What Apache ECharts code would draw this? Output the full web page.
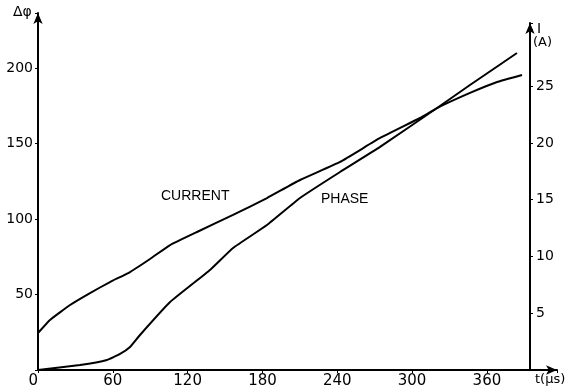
<!DOCTYPE html>
<html><head><meta charset="utf-8">
<script src="https://cdn.jsdelivr.net/npm/echarts@6/dist/echarts.min.js"></script>
<style>html,body{margin:0;padding:0;background:#fff}#c{width:567px;height:392px}</style>
</head><body><div id="c"></div>
<script>
// time (µs)
const currentT = [0, 9.6, 25.7, 41.7, 57.7, 73.8, 89.8, 105.9, 127.5, 156.4, 183.6, 210.1, 242.2, 274.3, 306.3, 320, 346.4, 368.1, 388.1];
// current I (A)
const currentI = [3.26, 4.41, 5.73, 6.78, 7.75, 8.63, 9.78, 11.01, 12.16, 13.66, 15.15, 16.74, 18.33, 20.44, 22.2, 23.08, 24.41, 25.37, 25.99];
const phaseT = [0, 33.7, 55.3, 65.8, 73.8, 81.8, 105.9, 137.9, 156.4, 183.6, 210.1, 242.2, 274.3, 320, 346.4, 384.1];
// phase Δφ (deg)
const phaseV = [0, 3.3, 6.6, 10.6, 15.2, 23.2, 45.0, 66.2, 80.8, 96.0, 113.9, 131.1, 147.7, 173.5, 188.7, 209.9];
const xTicks = [0, 60, 120, 180, 240, 300, 360];
const leftTicks = [50, 100, 150, 200];
const rightTicks = [5, 10, 15, 20, 25];

const F = 'DejaVu Sans';
const chart = echarts.init(document.getElementById('c'), null, {renderer: 'canvas'});
const axisLine = {lineStyle: {color: '#000', width: 2}, symbol: ['none', 'arrow'], symbolSize: [7, 11]};
chart.setOption({
  animation: false,
  grid: [
    {left: 38, right: 10, top: 13, bottom: 22},
    {left: 38, right: 37, top: 23, bottom: 22}
  ],
  xAxis: [
    {type: 'value', gridIndex: 0, min: 0, max: 416.2, interval: 60,
     axisLine: axisLine, splitLine: {show: false},
     axisTick: {length: 3, lineStyle: {color: '#000'}},
     axisLabel: {color: '#000', fontFamily: F, fontSize: 15, margin: 4, alignMinLabel: 'right',
       formatter: v => xTicks.includes(v) ? String(v) : ''}},
    {type: 'value', gridIndex: 1, min: 0, max: 394.5, show: false}
  ],
  yAxis: [
    {type: 'value', gridIndex: 0, min: 0, max: 236.4, interval: 50,
     axisLine: axisLine, splitLine: {show: false},
     axisTick: {length: 3, lineStyle: {color: '#000'}},
     axisLabel: {color: '#000', fontFamily: F, fontSize: 14, margin: 5,
       formatter: v => leftTicks.includes(v) ? String(v) : ''}},
    {type: 'value', gridIndex: 1, position: 'right', min: 0, max: 30.57, interval: 5,
     axisLine: Object.assign({onZero: false}, axisLine), splitLine: {show: false},
     axisTick: {length: 3, lineStyle: {color: '#000'}},
     axisLabel: {color: '#000', fontFamily: F, fontSize: 14, margin: 6,
       formatter: v => rightTicks.includes(v) ? String(v) : ''}}
  ],
  series: [
    {type: 'line', name: 'PHASE', xAxisIndex: 0, yAxisIndex: 0, showSymbol: false, smooth: 0.12,
     lineStyle: {color: '#000', width: 2}, data: phaseT.map((t, i) => [t, phaseV[i]])},
    {type: 'line', name: 'CURRENT', xAxisIndex: 1, yAxisIndex: 1, showSymbol: false, smooth: 0.12,
     lineStyle: {color: '#000', width: 2}, data: currentT.map((t, i) => [t, currentI[i]])}
  ],
  graphic: [
    {type: 'text', left: 13, top: 5, style: {text: 'Δφ', font: '14px "DejaVu Sans"', fill: '#000'}},
    {type: 'text', left: 537, top: 22, style: {text: 'I', font: '14px "DejaVu Sans"', fill: '#000'}},
    {type: 'text', left: 533, top: 36, style: {text: '(A)', font: '13px "DejaVu Sans"', fill: '#000'}},
    {type: 'text', left: 535, top: 373, style: {text: 't(μs)', font: '13px "DejaVu Sans"', fill: '#000'}},
    {type: 'text', left: 161, top: 189, style: {text: 'CURRENT', font: '14px "Liberation Sans"', fill: '#000'}},
    {type: 'text', left: 321, top: 192, style: {text: 'PHASE', font: '14px "Liberation Sans"', fill: '#000'}}
  ]
});
</script></body></html>
